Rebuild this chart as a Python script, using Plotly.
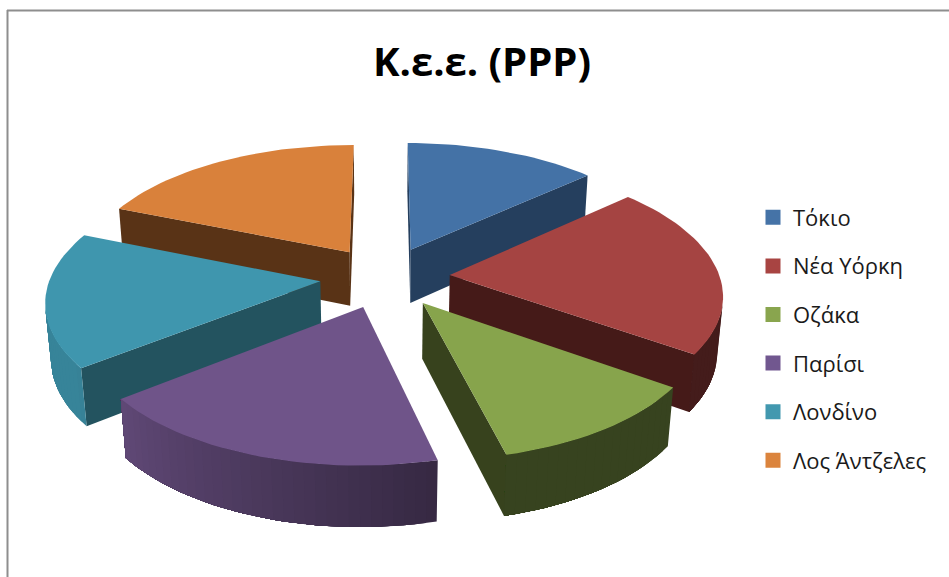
import math
import plotly.graph_objects as go

categories = ["Τόκιο", "Νέα Υόρκη", "Οζάκα", "Παρίσι", "Λονδίνο", "Λος Άντζελες"]
values = [48, 77, 41, 66, 60, 68]
top_colors = ["#4472A6", "#A54442", "#87A44C", "#6F5489", "#3F96AE", "#D9813B"]
side_colors = ["#253F5E", "#451A18", "#37421D", "#4A3A60", "#23535F", "#593316"]
legend_colors = ["#4573A7", "#A84442", "#89A54E", "#71578F", "#4298AF", "#DB843D"]
title_text = "Κ.ε.ε. (PPP)"

W, H = 949, 577
CX, CY = 385.0, 277.0
RADIUS = 270.0
EXPLODE = 65.0
HEIGHT = 63.0
TILT = math.radians(28.3)
CAM = 1750.0
k, c = math.sin(TILT), math.cos(TILT)


def project(X, Y, Z):
    """3D point (pixel-like units around the pie centre) -> axis coordinates."""
    D = CAM + Y * c - Z * k
    f = CAM / D
    return X * f / RADIUS, (Y * k + Z * c) * f / RADIUS


def hexmix(col, factor):
    r, g, b = int(col[1:3], 16), int(col[3:5], 16), int(col[5:7], 16)
    return f"rgb({r*factor:.0f},{g*factor:.0f},{b*factor:.0f})"


def wall_shade(theta):
    if theta <= 165:
        return 0.41
    if theta >= 235:
        return 0.88
    return 0.48 + (theta - 165) / 70 * 0.40


fig = go.Figure()


def poly(points, color):
    xs = [p[0] for p in points] + [points[0][0]]
    ys = [p[1] for p in points] + [points[0][1]]
    fig.add_trace(go.Scatter(x=xs, y=ys, mode="lines", fill="toself", fillcolor=color,
                             line=dict(color=color, width=0), hoverinfo="skip",
                             showlegend=False))


total = sum(values)
slices = []
start = 0.0
for i, v in enumerate(values):
    sweep = v / total * 360
    slices.append((i, start, start + sweep))
    start += sweep


def apex(a0, a1):
    mid = math.radians((a0 + a1) / 2)
    return EXPLODE * math.sin(mid), EXPLODE * math.cos(mid)


def rim(a0, a1, deg):
    ax, ay = apex(a0, a1)
    t = math.radians(deg)
    return ax + RADIUS * math.sin(t), ay + RADIUS * math.cos(t)


def area(pts):
    s = 0
    for j in range(len(pts)):
        x0, y0 = pts[j]
        x1, y1 = pts[(j + 1) % len(pts)]
        s += x0 * y1 - x1 * y0
    return s


def order_key(s):
    mid = math.radians((s[1] + s[2]) / 2)
    return -math.cos(mid)


for i, a0, a1 in sorted(slices, key=order_key):
    ax, ay = apex(a0, a1)
    n = max(6, int((a1 - a0) / 2))
    degs = [a0 + (a1 - a0) * j / n for j in range(n + 1)]
    rims = [rim(a0, a1, d) for d in degs]

    # radial walls: start edge, end edge
    for (px, py), sign in ((rims[0], 1), (rims[-1], -1)):
        q = [project(ax, ay, 0), project(px, py, 0), project(px, py, -HEIGHT), project(ax, ay, -HEIGHT)]
        if sign * area(q) > 0:
            poly(q, side_colors[i])

    # outer wall, shaded by direction; each band runs on under the next one so no seams show
    visible = []
    for j in range(n):
        p0, p1 = rims[j], rims[j + 1]
        q = [project(p0[0], p0[1], 0), project(p1[0], p1[1], 0),
             project(p1[0], p1[1], -HEIGHT), project(p0[0], p0[1], -HEIGHT)]
        if area(q) > 0:
            visible.append(j)
    if visible:
        last = visible[-1] + 1
        for j in visible:
            arc = rims[j:last + 1]
            q = [project(p[0], p[1], 0) for p in arc] + [project(p[0], p[1], -HEIGHT) for p in reversed(arc)]
            poly(q, hexmix(top_colors[i], wall_shade((degs[j] + degs[j + 1]) / 2)))

    # top face
    poly([project(ax, ay, 0)] + [project(p[0], p[1], 0) for p in rims], top_colors[i])

# legend entries
for i, name in enumerate(categories):
    fig.add_trace(go.Scatter(x=[None], y=[None], mode="markers", name=name,
                             legendgroup=name,
                             marker=dict(symbol="square", size=15, color=legend_colors[i]),
                             hoverinfo="skip"))

fig.update_layout(
    width=W, height=H, autosize=False,
    margin=dict(l=0, r=0, t=0, b=0),
    paper_bgcolor="white", plot_bgcolor="white",
    xaxis=dict(visible=False, range=[-CX / RADIUS, (W - CX) / RADIUS], fixedrange=True),
    yaxis=dict(visible=False, range=[(CY - H) / RADIUS, CY / RADIUS], fixedrange=True),
    title=dict(text=f"<b>{title_text}</b>", x=482 / W, xanchor="center", y=1 - 62 / H, yanchor="middle",
               font=dict(family="Open Sans", size=40, color="black")),
    legend=dict(x=753 / W, xanchor="left", y=1 - 196.5 / H, yanchor="top",
                font=dict(family="Open Sans", size=22, color="#1a1a1a"),
                traceorder="grouped", tracegroupgap=17, itemclick=False, itemdoubleclick=False,
                bgcolor="rgba(0,0,0,0)"),
    shapes=[
        dict(type="line", xref="paper", yref="paper", x0=7 / W, x1=1, y0=1 - 10.5 / H, y1=1 - 10.5 / H,
             line=dict(color="#8E8E8E", width=2)),
        dict(type="line", xref="paper", yref="paper", x0=7.5 / W, x1=7.5 / W, y0=0, y1=1 - 10 / H,
             line=dict(color="#8E8E8E", width=2)),
    ],
)

fig.write_html("out.html", post_script="document.body.style.margin='0';", config={"displayModeBar": False})
